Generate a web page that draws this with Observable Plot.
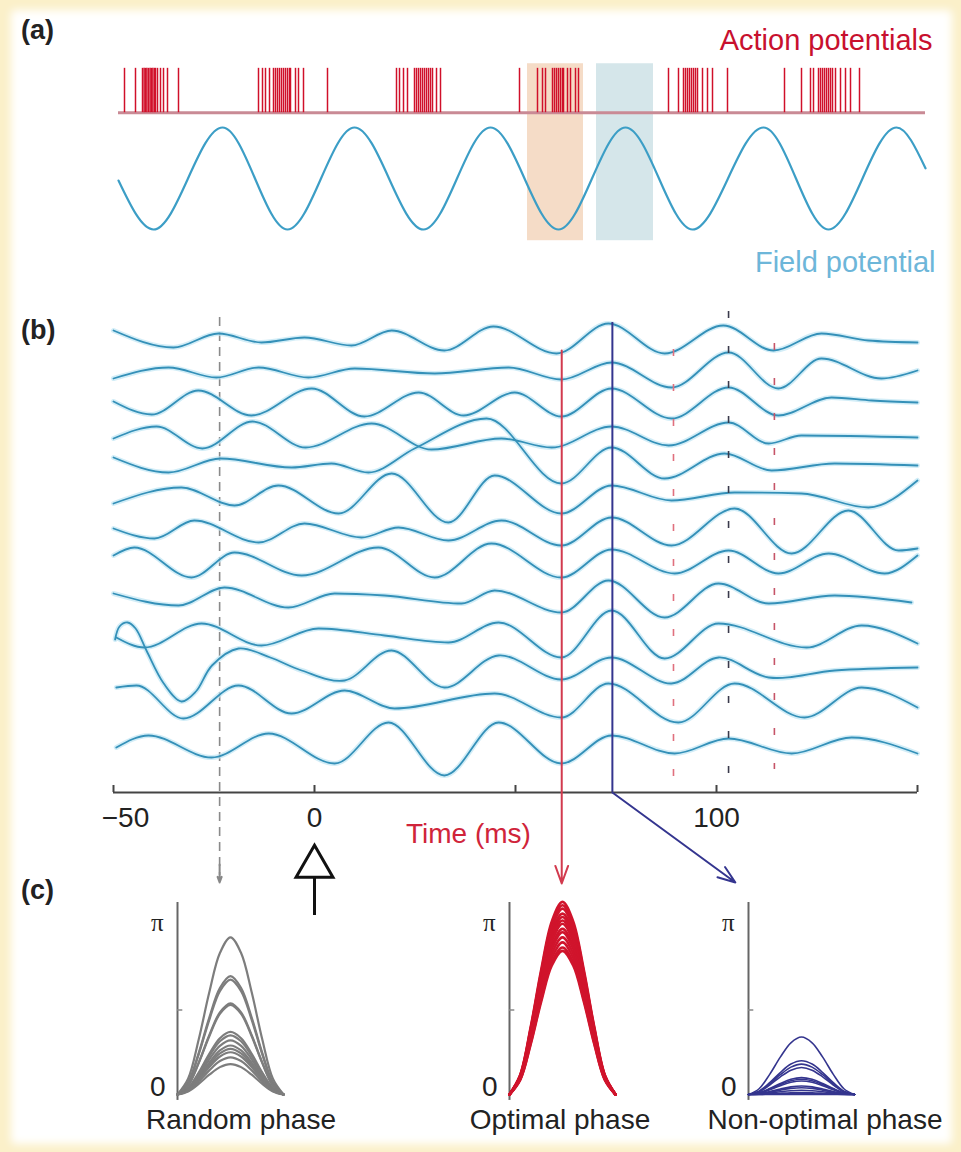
<!DOCTYPE html>
<html><head><meta charset="utf-8">
<script src="https://cdn.jsdelivr.net/npm/d3@7"></script>
<script src="https://cdn.jsdelivr.net/npm/@observablehq/plot@0.6"></script>
<style>
html,body{margin:0;padding:0;background:#fbf0c9;}
#fig{position:relative;width:961px;height:1152px;overflow:hidden;font-family:"Liberation Sans",Arial,sans-serif;}
#paper{position:absolute;left:11px;top:10px;right:9px;bottom:8px;background:#fff;filter:blur(4px);border-radius:4px;}
.lab{position:absolute;font-weight:bold;font-size:27px;color:#222;line-height:1;}
.cap{position:absolute;font-size:28px;color:#222;transform:translateX(-50%);white-space:nowrap;line-height:1;}
</style></head><body><div id="fig"><div id="paper"></div></div>
<script>
// ---------- Panel (a) data (time in ms) ----------
const spikeTimes = [
  1.5,4.25,6,6.4,6.75,7.1,7.5,7.9,8.25,8.6,9,9.25,9.75,10.5,11.25,12.25,15,
  35,36,36.75,37.75,38.75,39.25,39.75,40.25,40.75,41.25,41.75,42.25,42.75,43,44.25,45,46.25,52.25,
  69.5,70.25,71.25,72.25,74,74.5,75,75.5,76,76.5,77,77.5,78,78.5,79.5,80.5,
  100.25,
  104.75,106,106.75,108.5,109,109.5,110,110.5,111,111.25,112.25,113,114.25,115,
  137.5,140,141.25,141.75,142.25,142.75,143.25,143.75,144.25,144.75,146,147.25,148.5,152.25,
  166.5,170.75,173,173.75,175,175.5,176,176.5,177,177.5,178,178.5,179.25,180.5,181.75,183,185.25
];
const spikeBaseline = 1.29, spikeHeight = 0.87;
const fieldPotential = [[0,-0.04],[8.75,-1],[26,1],[42.25,-1],[59,1],[76.25,-1],[93,1],[110,-1],
  [126.75,1],[143.5,-1],[161.25,1],[177.5,-1],[194.5,1],[201.75,0.2]];
const phaseWindows = [
  {t1:102.25, t2:116.25, v1:-1.22, v2:2.25, color:"#f5dcc7"},
  {t1:119.5, t2:133.75, v1:-1.22, v2:2.25, color:"#d5e6ea"}
];

// ---------- Panel (b) data: [time ms, amplitude] per trial ----------
const trace01 = [[-50,7],[-35.1,-10],[-23.9,4],[-13.2,-5],[-2.5,0],[9.2,-8],[19.2,7],[32.3,-13],[44.5,11],[60.2,-16],[73.1,14],[87.1,-16],[101.7,12],[114.2,-13],[126.1,4],[137.8,-3],[150,-5]];
const trace02 = [[-50,-7],[-36.3,4],[-24.4,-6],[-13.9,4],[-1.5,-6],[10,3],[29.9,-2],[48.3,4],[61.4,-8],[73.9,9],[88.8,-16],[103,19],[115.4,-17],[126.1,13],[141,-7],[150,1]];
const trace03 = [[-50,4],[-40.5,-9],[-28.9,15],[-15.7,-10],[-0.7,17],[12.4,-11],[25.9,13],[37.1,-10],[49.8,13],[61.4,-11],[73.9,17],[88.8,-13],[103,18],[115.4,-10],[128.6,8],[138.6,5],[150,3]];
const trace04 = [[-50,1],[-39.3,13],[-27.9,-9],[-15.4,18],[-2.2,-8],[14.2,16],[29.1,-10],[46.5,1],[59,-8],[73.9,13],[88.1,-6],[103,17],[113,-4],[121.1,4],[150,2]];
const trace05 = [[-50,16],[-36.3,1],[-23.4,15],[-5.7,6],[4.2,10],[13.4,1],[24.9,25],[42.8,55],[61.4,-10],[73.9,26],[87.1,-5],[102,20],[113.7,3],[129.4,10],[150,8]];
const trace06 = [[-50,4],[-33.1,20],[-19.9,2],[-9,22],[6,-6],[19.2,34],[33.3,-15],[44.8,32],[61.4,-6],[73.9,22],[88.8,7],[104.5,15],[121.1,14],[137.8,0],[150,27]];
const trace07 = [[-50,13],[-39.8,3],[-29.9,21],[-13.9,-1],[-2.5,18],[11.7,4],[20.9,14],[33.3,1],[46.5,21],[61.4,-4],[73.9,24],[88.8,-4],[104.5,33],[118.7,-12],[132.8,31],[145.3,-9],[150,-7]];
const trace08 = [[-50,20],[-44.8,28],[-30.6,-2],[-19.9,23],[-3.2,0],[15.9,28],[29.9,-2],[44,32],[61.4,-2],[73.9,26],[89.6,2],[103,25],[115.4,2],[127.9,22],[141.8,2],[150,20]];
const trace09 = [[-50,16],[-33.8,4],[-22.4,22],[-6.5,2],[5,16],[17.4,14],[36.6,6],[44.8,19],[61.4,-3],[73.1,29],[87.1,-8],[100.5,26],[113,6],[129.4,14],[148.5,7]];
const trace10 = [[-49.3,6],[-42.3,-4],[-28.1,20],[-13.2,-2],[1,15],[17.4,8],[33.3,1],[45.8,21],[61.4,-14],[73.9,33],[87.1,-15],[100.5,20],[122.4,-4],[136.1,18],[150,0]];
const trace11 = [[-49.6,38],[-48.5,51],[-46.5,55],[-44.5,49],[-41.8,27],[-37.5,-6],[-33.1,-24],[-29.5,-14],[-25.5,12],[-18.9,29],[-11,20],[-3.2,7],[7.5,-3],[19.2,27],[32.3,-10],[45.8,22],[61.4,-2],[73.9,20],[88.8,-6],[100.5,20],[113,0],[129.4,7],[150,10]];
const trace12 = [[-49.3,24],[-44.3,26],[-32.6,-7],[-18.9,26],[-5.7,-2],[7.5,21],[19.9,3],[44.8,18],[61.4,-6],[73.1,28],[90.5,-11],[104.5,28],[121.9,-6],[136.1,24],[150,4]];
const trace13 = [[-49.3,-2],[-41.3,10],[-25.6,-12],[-11.4,12],[5,-18],[18.4,23],[32.3,-30],[45.8,23],[61.4,-18],[73.9,10],[89.6,-8],[103,7],[118.7,-8],[133.6,8],[150,-8]];
const trials = [trace01,trace02,trace03,trace04,trace05,trace06,trace07,trace08,trace09,trace10,trace11,trace12,trace13];
const rowSpacing = 34;
const loopTrial = 10; // trace11 starts with a small loop, drawn with a curve that allows it

const xTicks = [-50, 0, 50, 100, 150];
const xTickLabels = [{t:-50,label:"\u221250"},{t:0,label:"0"},{t:100,label:"100"}];
const axisLevel = -455;
const markers = [
  {t:89.3, top:-12, bottom:-440, color:"#e0707e"},
  {t:103, top:26, bottom:-437, color:"#3a3a4c"},
  {t:114.4, top:-6, bottom:-432, color:"#c65468"}
];
const randomTime = -23.6, optimalTime = 61.5, nonOptimalTime = 74.1, stimulusTime = 0;
const arrows = [
  {t1:optimalTime, v1:-13, t2:optimalTime, v2:-546, color:"#d23a4e"},
  {t1:nonOptimalTime, v1:axisLevel, t2:104.7, v2:-545, color:"#34358f"},
  {t1:randomTime, v1:-527, t2:randomTime, v2:-545, color:"#888888"}
];

// ---------- Panel (c) data ----------
const bellX = [0,0.1,0.2,0.3,0.4,0.5,0.6,0.7,0.8,0.9,1];
const bellShape = [0,0.10,0.35,0.65,0.90,1,0.90,0.65,0.35,0.10,0];
const randomPeaks = [0.93,0.70,0.68,0.54,0.53,0.37,0.35,0.32,0.29,0.27,0.25,0.22,0.18];
const optimalPeaks = [1.14,1.12,1.10,1.07,1.05,1.03,1.01,0.98,0.96,0.93,0.90,0.87,0.85];
const nonOptimalPeaks = [0.34,0.20,0.18,0.16,0.10,0.09,0.08,0.05,0.04,0.025,0.012,0.005,0];

const FONT = "'Liberation Sans', Arial, sans-serif";
const fig = document.getElementById("fig");
function place(el, left, top){ el.style.position="absolute"; el.style.left=left+"px"; el.style.top=top+"px"; fig.appendChild(el); }
const baseStyle = {background:"transparent", overflow:"visible", fontFamily:FONT};

// ---------- Panel (a) ----------
const pa = Plot.plot({
  width:961, height:290, marginLeft:118, marginRight:36, marginTop:0, marginBottom:0,
  x:{domain:[0,201.75], axis:null}, y:{domain:[-2.196,3.49], axis:null},
  style: baseStyle,
  marks:[
    Plot.rect(phaseWindows,{x1:"t1",x2:"t2",y1:"v1",y2:"v2",fill:"color"}),
    Plot.ruleY([spikeBaseline],{stroke:"#c98a95",strokeWidth:3}),
    Plot.ruleX(spikeTimes,{x:d=>d,y1:spikeBaseline,y2:spikeBaseline+spikeHeight,stroke:"#d0102a",strokeWidth:1.5}),
    Plot.line(fieldPotential,{x:d=>d[0],y:d=>d[1],curve:"monotone-x",stroke:"#3c9ec6",strokeWidth:2.2}),
    Plot.text(["Action potentials"],{x:201.75,y:2.71,textAnchor:"end",dx:7,fill:"#c8102e",fontSize:29}),
    Plot.text(["Field potential"],{x:201.75,y:-1.647,textAnchor:"end",dx:10,fill:"#6db6d9",fontSize:29})
  ]
});
place(pa, 0, 0);

// ---------- Panel (b) ----------
const traceRows = trials.map((tr,i)=>tr.map(([t,a])=>({t, y:a-rowSpacing*i, row:i})));
const smoothRows = traceRows.flatMap((r,i)=> i===loopTrial ? [] : r);
const loopRow = traceRows[loopTrial];
const pb = Plot.plot({
  width:961, height:630, marginLeft:113, marginRight:44, marginTop:0, marginBottom:138,
  x:{domain:[-50,150], axis:null}, y:{domain:[axisLevel,37], axis:null},
  style: baseStyle,
  marks:[
    Plot.ruleX([randomTime],{y1:20,y2:-538,stroke:"#8a8a8a",strokeWidth:1.6,strokeDasharray:"9,6"}),
    Plot.line(smoothRows,{x:"t",y:"y",z:"row",curve:"monotone-x",stroke:"#bfe5f4",strokeWidth:5,strokeOpacity:0.7}),
    Plot.line(loopRow,{x:"t",y:"y",curve:"catmull-rom",stroke:"#bfe5f4",strokeWidth:5,strokeOpacity:0.7}),
    Plot.line(smoothRows,{x:"t",y:"y",z:"row",curve:"monotone-x",stroke:"#3490b8",strokeWidth:1.8}),
    Plot.line(loopRow,{x:"t",y:"y",curve:"catmull-rom",stroke:"#3490b8",strokeWidth:1.8}),
    Plot.ruleX(markers,{x:"t",y1:"top",y2:"bottom",stroke:"color",strokeWidth:1.6,strokeDasharray:"7,28"}),
    Plot.ruleX([nonOptimalTime],{y1:15,y2:axisLevel,stroke:"#34358f",strokeWidth:2}),
    Plot.ruleY([axisLevel],{stroke:"#444",strokeWidth:2}),
    Plot.ruleX(xTicks,{x:d=>d,y1:axisLevel,y2:axisLevel+7,stroke:"#444",strokeWidth:2}),
    Plot.arrow(arrows,{x1:"t1",y1:"v1",x2:"t2",y2:"v2",stroke:"color",strokeWidth:2,headLength:14,headAngle:40}),
    Plot.text(xTickLabels.filter(d=>d.t!==-50),{x:"t",y:-481,text:"label",fontSize:28,fill:"#222"}),
    Plot.text(xTickLabels.filter(d=>d.t===-50),{x:"t",y:-481,text:"label",dx:12,fontSize:28,fill:"#222"}),
    Plot.text(["Time (ms)"],{x:38.3,y:-497,fill:"#d0243a",fontSize:28}),
    Plot.ruleX([stimulusTime],{y1:-540,y2:-578,stroke:"#111",strokeWidth:3}),
    Plot.dot([stimulusTime],{x:d=>d,y:-529,symbol:"triangle",r:13.7,fill:"white",stroke:"#111",strokeWidth:3})
  ]
});
place(pb, 0, 300);

// ---------- Panel (c) ----------
function phasePlot(peaks, stroke, strokeWidth){
  const data = peaks.flatMap((p,k)=>bellX.map((x,j)=>({x, y:p*Math.PI*bellShape[j], k})));
  return Plot.plot({
    width:240, height:265, marginLeft:60, marginRight:74, marginTop:45, marginBottom:51,
    x:{domain:[0,1], axis:null}, y:{domain:[0,Math.PI], axis:null},
    style: baseStyle,
    marks:[
      Plot.ruleX([0],{y1:-0.035*Math.PI,y2:1.136*Math.PI,stroke:"#666",strokeWidth:2}),
      Plot.ruleY([Math.PI/2],{x1:0,x2:0.05,stroke:"#888",strokeWidth:1.5}),
      Plot.line(data,{x:"x",y:"y",z:"k",curve:"catmull-rom",stroke,strokeWidth}),
      Plot.text([Math.PI],{x:0,y:d=>d,text:()=>"\u03c0",textAnchor:"end",dx:-14,dy:-3,fontSize:25,fontFamily:"'Liberation Serif', 'Times New Roman', serif",fill:"#222"}),
      Plot.text([0],{x:0,y:d=>d,text:()=>"0",textAnchor:"end",dx:-12,dy:-7,fontSize:28,fill:"#222"})
    ]
  });
}
place(phasePlot(randomPeaks,"#7d7d7d",2.2), 117, 880);
place(phasePlot(optimalPeaks,"#d0142c",2.6), 449, 880);
place(phasePlot(nonOptimalPeaks,"#34358e",1.6), 688, 880);

// ---------- HTML labels ----------
function addDiv(cls, text, left, top){ const d=document.createElement("div"); d.className=cls; d.textContent=text; d.style.left=left+"px"; d.style.top=top+"px"; fig.appendChild(d); }
addDiv("lab","(a)",21,17);
addDiv("lab","(b)",21,317);
addDiv("lab","(c)",21,877);
addDiv("cap","Random phase",241,1106);
addDiv("cap","Optimal phase",560,1106);
addDiv("cap","Non-optimal phase",825,1106);
</script></body></html>
